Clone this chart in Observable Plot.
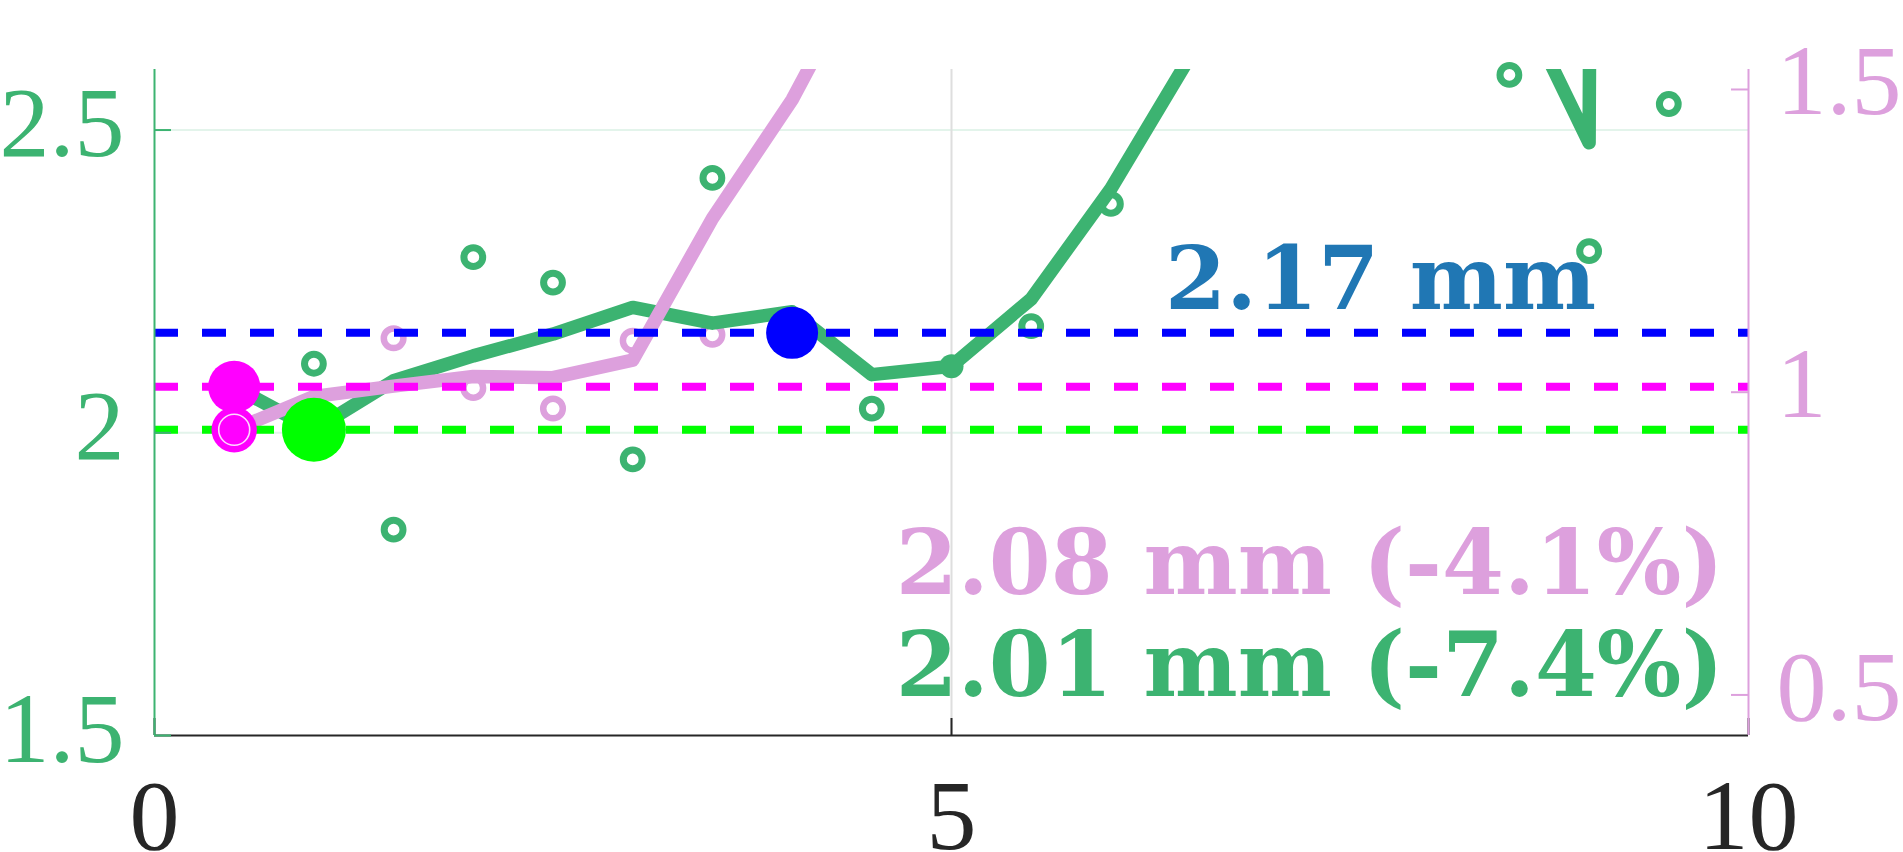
<!DOCTYPE html>
<html>
<head>
<meta charset="utf-8">
<script src="https://cdn.jsdelivr.net/npm/d3@7"></script>
<script src="https://cdn.jsdelivr.net/npm/@observablehq/plot@0.6"></script>
<style>
  html, body { margin: 0; padding: 0; background: #fff; overflow: hidden; }
  svg text { font-family: "Liberation Serif", "Times New Roman", serif; }
  svg text.bold, svg g.bold text { font-family: "DejaVu Serif", serif; font-weight: bold; }
</style>
</head>
<body>
<div id="chart"></div>
<script>
// ---- axes ----
const xTicks = [0, 5, 10];
const yTicksLeft = [1.5, 2, 2.5];
const yTicksRight = [0.5, 1, 1.5];
const leftDomain = [1.5, 2.6];
const rightDomain = [0.433, 1.533];

// ---- green series (left axis, mm) ----
const greenX = [0.5, 1, 1.5, 2, 2.5, 3, 3.5, 4, 4.5, 5, 5.5, 6, 6.5, 7, 7.5, 8, 8.5, 9, 9.5];
const greenY = [2.076, 2.005, 2.086, 2.127, 2.163, 2.207, 2.181, 2.200, 2.096, 2.110, 2.221, 2.403, 2.623, 2.95, 3.1, 3.0, 2.750, 2.479, 30];
const greenDotX = [1, 1.5, 2, 2.5, 3, 3.5, 4.5, 5.5, 6, 8.5, 9, 9.5];
const greenDotY = [2.114, 1.840, 2.290, 2.248, 1.956, 2.421, 2.040, 2.176, 2.378, 2.591, 2.300, 2.543];

// ---- plum series (right axis) ----
const pinkX = [0.5, 1, 1.5, 2, 2.5, 3, 3.5, 4, 4.5];
const pinkY = [0.938, 0.993, 1.010, 1.026, 1.024, 1.053, 1.287, 1.483, 1.73];
const pinkDotX = [1.5, 2, 2.5, 3, 3.5];
const pinkDotY = [1.089, 1.007, 0.973, 1.085, 1.095];

// ---- reference levels ----
const refValues = [2.165, 2.076, 2.005];        // blue, magenta, lime
const refMarkX = [4, 0.5, 1];                   // where each level is marked
const refLabels = ["2.17 mm", "2.08 mm (-4.1%)", "2.01 mm (-7.4%)"];
const currentX = 5;                              // small marker on green line

// ---- helpers ----
const toLeft = r => leftDomain[0] + (r - rightDomain[0]) * (leftDomain[1] - leftDomain[0]) / (rightDomain[1] - rightDomain[0]);
const toRight = l => rightDomain[0] + (l - leftDomain[0]) * (rightDomain[1] - rightDomain[0]) / (leftDomain[1] - leftDomain[0]);

const green = greenX.map((x, i) => ({x, y: greenY[i]}));
const greenDots = greenDotX.map((x, i) => ({x, y: greenDotY[i]}));
const pink = pinkX.map((x, i) => ({x, y: toLeft(pinkY[i])}));
const pinkDots = pinkDotX.map((x, i) => ({x, y: toLeft(pinkDotY[i])}));
const refs = refValues.map((y, i) => ({y, x: refMarkX[i], label: refLabels[i]}));
const current = [{x: currentX, y: greenY[greenX.indexOf(currentX)]}];
const pinkStart = [pink[0]];

const W = 1903, H = 852, mL = 154, mR = 155, mT = 69, mB = 117;
const frameW = W - mL - mR, frameH = H - mT - mB;
const tickLen = 17;

const GREEN = "#3CB371", PLUM = "#DDA0DD", MAGENTA = "#FF00FF", LIME = "#00FF00", BLUE = "#0000FF";
const serif = "Liberation Serif";
const bold = "DejaVu Serif";

const chart = Plot.plot({
  width: W, height: H,
  marginLeft: mL, marginRight: mR, marginTop: mT, marginBottom: mB,
  x: {domain: [0, 10]},
  y: {domain: leftDomain},
  style: {background: "#fff", fontFamily: serif, overflow: "visible"},
  marks: [
    // grid
    Plot.ruleY(yTicksLeft.slice(1), {y: d => d, stroke: GREEN, strokeOpacity: 0.14, strokeWidth: 2}),
    Plot.ruleX([5], {x: d => d, stroke: "#dedede", strokeWidth: 2}),
    // scatter rings
    Plot.dot(greenDots, {x: "x", y: "y", r: 9.4, stroke: GREEN, strokeWidth: 7, fill: "none"}),
    Plot.dot(pinkDots, {x: "x", y: "y", r: 9.8, stroke: PLUM, strokeWidth: 6.5, fill: "none"}),
    // lines
    Plot.line(green, {x: "x", y: "y", stroke: GREEN, strokeWidth: 13.5, strokeLinejoin: "round", strokeLinecap: "round", clip: true}),
    Plot.line(pink, {x: "x", y: "y", stroke: PLUM, strokeWidth: 13.5, strokeLinejoin: "round", strokeLinecap: "round", clip: true}),
    // dashed reference lines
    Plot.ruleY(refs, {y: "y", stroke: (d, i) => [BLUE, MAGENTA, LIME][i], strokeWidth: 8, strokeDasharray: "24,24"}),
    // markers
    Plot.dot(current, {x: "x", y: "y", r: 12, fill: GREEN}),
    Plot.dot(pinkStart, {x: "x", y: "y", r: 22.7, fill: MAGENTA}),
    Plot.dot(pinkStart, {x: "x", y: "y", r: 15.5, stroke: "#fff", strokeOpacity: 0.85, strokeWidth: 1.6, fill: "none"}),
    Plot.dot([refs[1]], {x: "x", y: "y", r: 26, fill: MAGENTA}),
    Plot.dot([refs[2]], {x: "x", y: "y", r: 32, fill: LIME}),
    Plot.dot([refs[0]], {x: "x", y: "y", r: 26, fill: BLUE}),
    // axis lines
    Plot.tickX(xTicks, {x: d => d, stroke: "#262626", strokeWidth: 2, insetTop: frameH - tickLen}),
    Plot.ruleY([leftDomain[0]], {y: d => d, stroke: "#262626", strokeWidth: 2.2}),
    Plot.ruleX([0], {x: d => d, stroke: GREEN, strokeWidth: 2}),
    Plot.ruleX([10], {x: d => d, stroke: PLUM, strokeWidth: 2}),
    Plot.tickY(yTicksLeft, {y: d => d, stroke: GREEN, strokeWidth: 2, insetRight: frameW - tickLen}),
    Plot.tickY(yTicksRight.map(toLeft), {y: d => d, stroke: PLUM, strokeWidth: 2, insetLeft: frameW - tickLen}),
    // tick labels
    Plot.axisX(xTicks, {anchor: "bottom", tickSize: 0, tickPadding: 42, fontSize: 100, fontFamily: serif, color: "#262626", label: null, tickFormat: d => String(d)}),
    Plot.axisY(yTicksLeft, {anchor: "left", tickSize: 0, tickPadding: 30, dy: -6, fontSize: 100, fontFamily: serif, color: GREEN, label: null, tickFormat: d => String(d)}),
    Plot.axisY(yTicksRight.map(toLeft), {anchor: "right", tickSize: 0, tickPadding: 28, dy: -7, fontSize: 100, fontFamily: serif, color: PLUM, label: null, tickFormat: d => String(Math.round(toRight(d) * 100) / 100)}),
    // annotations
    Plot.text([refs[0]], {x: 9, y: "y", text: "label", textAnchor: "end", lineAnchor: "bottom", dx: 7, dy: -24, fontSize: 88, fontWeight: "bold", fontFamily: bold, fill: "#2077B4", className: "bold"}),
    Plot.text([refs[1]], {text: "label", frameAnchor: "bottom-right", textAnchor: "end", lineAnchor: "bottom", dx: -25, dy: -142, fontSize: 89, fontWeight: "bold", fontFamily: bold, fill: PLUM, className: "bold"}),
    Plot.text([refs[2]], {text: "label", frameAnchor: "bottom-right", textAnchor: "end", lineAnchor: "bottom", dx: -25, dy: -40, fontSize: 89, fontWeight: "bold", fontFamily: bold, fill: GREEN, className: "bold"})
  ]
});
document.getElementById("chart").appendChild(chart);
</script>
</body>
</html>
